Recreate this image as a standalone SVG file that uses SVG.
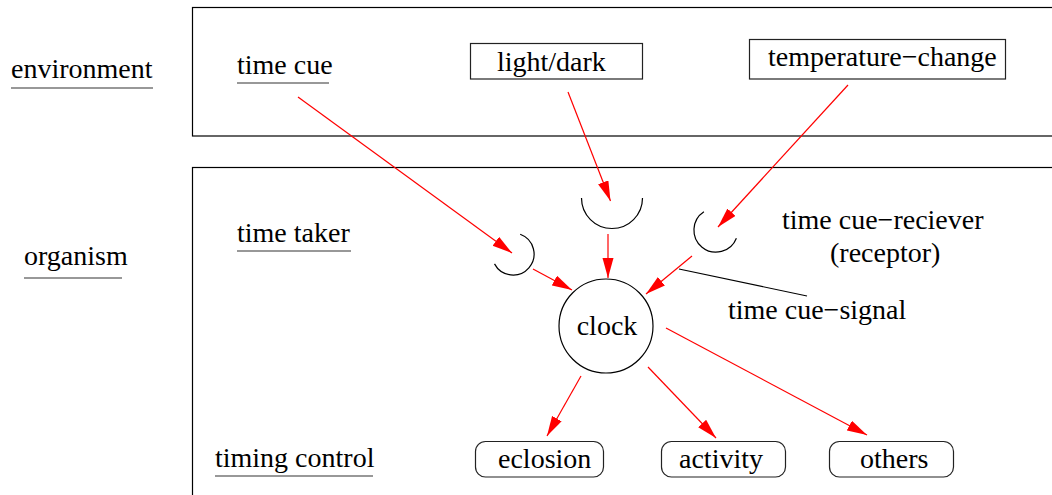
<svg xmlns="http://www.w3.org/2000/svg" width="1052" height="495" viewBox="0 0 1052 495" font-family="'Liberation Serif', 'Times New Roman', Times, serif">
<style>
text{font-family:'Liberation Serif','Times New Roman',Times,serif;font-size:28px;fill:#000}
.frame{fill:none;stroke:#000;stroke-width:1.2}
.box{fill:#fff;stroke:#222;stroke-width:1.2}
.ul{stroke:#333;stroke-width:1.2}
.arc{fill:none;stroke:#000;stroke-width:1.2}
.red{stroke:#ff0000;stroke-width:1.2;fill:none;marker-end:url(#ah)}
.lead{stroke:#000;stroke-width:1.2}
</style>
<defs>
<marker id="ah" markerUnits="userSpaceOnUse" markerWidth="21" markerHeight="12" refX="20" refY="5.5" orient="auto" viewBox="0 0 21 12">
<path d="M0,0 L20,5.5 L0,11 z" fill="#ff0000"/>
</marker>
</defs>
<g id="frames">
<rect class="frame" x="192.5" y="7.5" width="900" height="128.5"/>
<rect class="frame" x="192.5" y="167.5" width="900" height="400"/>
</g>
<g id="label-environment"><text x="11" y="78">environment</text><line class="ul" x1="11" y1="88" x2="153" y2="88"/></g>
<g id="label-organism"><text x="24" y="265">organism</text><line class="ul" x1="24" y1="278" x2="122" y2="278"/></g>
<g id="label-timecue"><text x="237" y="74">time cue</text><line class="ul" x1="237" y1="83" x2="329" y2="83"/></g>
<g id="label-timetaker"><text x="237" y="242">time taker</text><line class="ul" x1="237" y1="251" x2="351" y2="251"/></g>
<g id="label-timingcontrol"><text x="215" y="467">timing control</text><line class="ul" x1="215" y1="476" x2="373" y2="476"/></g>
<g id="lightdark"><rect class="box" x="470.5" y="43.5" width="172" height="35.5"/><text x="497" y="71">light/dark</text></g>
<g id="temperature"><rect class="box" x="749.5" y="39.5" width="256" height="39.5"/><text x="768" y="66">temperature−change</text></g>
<g id="receptor-left"><path class="arc" d="M520.2,234.3 A21,21 0 1,1 494.5,263.9"/></g>
<g id="receptor-center"><path class="arc" d="M581.5,198 A30.5,30.5 0 0,0 642.5,198"/></g>
<g id="receptor-right"><path class="arc" d="M736.4,238.2 A22,22 0 1,1 703.9,211.7"/></g>
<g id="clock"><circle class="arc" cx="606" cy="326" r="47"/><text x="607" y="335" text-anchor="middle">clock</text></g>
<g id="receiver-label"><text x="782" y="229">time cue−reciever</text><text x="830" y="262">(receptor)</text></g>
<g id="signal-label"><text x="728" y="319">time cue−signal</text></g>
<g id="eclosion"><rect class="box" x="475.5" y="441.5" width="128" height="35.5" rx="10"/><text x="498" y="468">eclosion</text></g>
<g id="activity"><rect class="box" x="661.5" y="441.5" width="124" height="35.5" rx="10"/><text x="679" y="468">activity</text></g>
<g id="others"><rect class="box" x="829.5" y="441.5" width="124" height="35.5" rx="10"/><text x="860" y="468">others</text></g>
<g id="connectors">
<line class="red" x1="298" y1="97" x2="512" y2="253"/>
<line class="red" x1="568" y1="92" x2="610.5" y2="201"/>
<line class="red" x1="848" y1="85" x2="718" y2="227"/>
<line class="red" x1="533" y1="269" x2="572" y2="290"/>
<line class="red" x1="608" y1="234" x2="608" y2="278"/>
<line class="red" x1="692" y1="256" x2="646" y2="294"/>
<line class="red" x1="581" y1="376" x2="547" y2="436"/>
<line class="red" x1="648" y1="367" x2="716" y2="438"/>
<line class="red" x1="666" y1="328" x2="867" y2="435"/>
<line class="lead" x1="679" y1="269" x2="807" y2="296"/>
</g>
</svg>
